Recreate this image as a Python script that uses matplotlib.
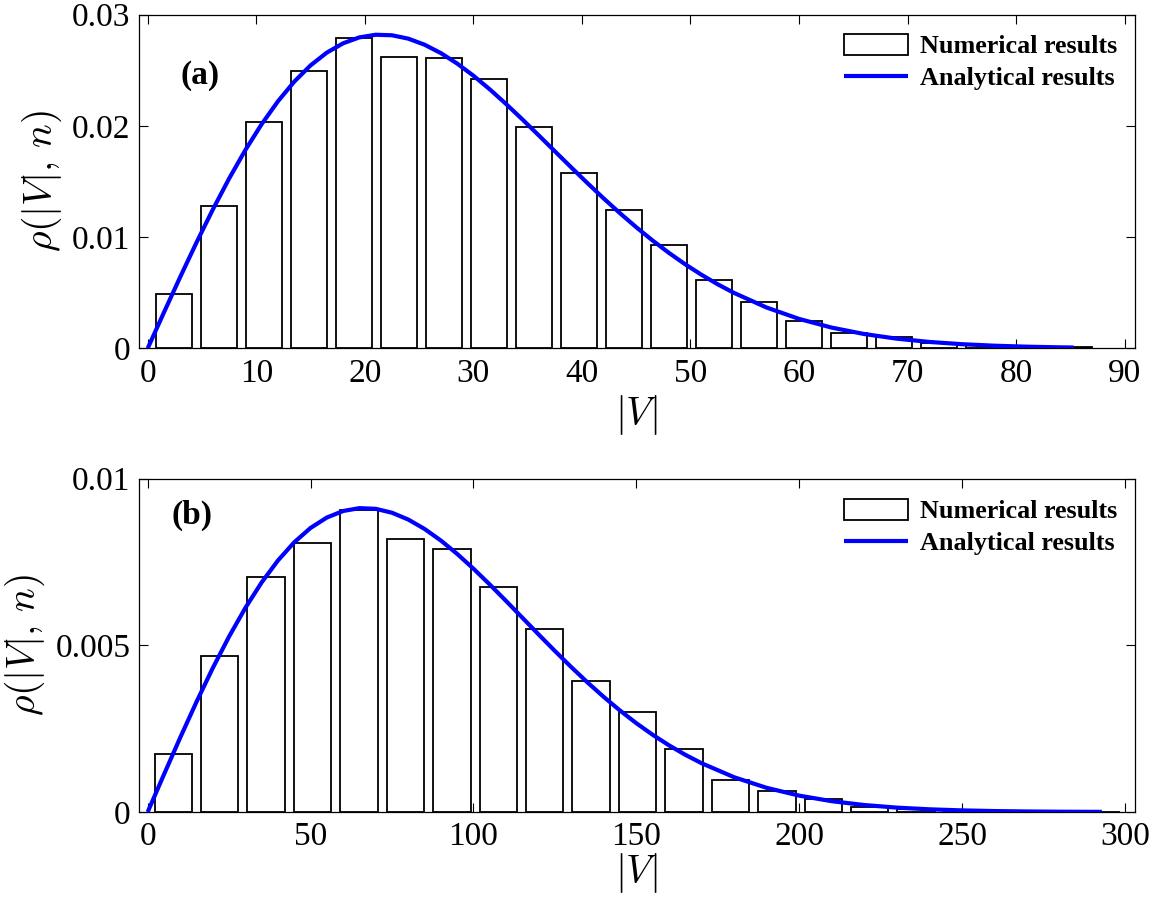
import matplotlib
matplotlib.use('Agg')
import matplotlib.pyplot as plt
from matplotlib.ticker import FixedLocator, FuncFormatter

plt.rcParams['font.family'] = ['Liberation Serif', 'DejaVu Serif']
plt.rcParams['mathtext.fontset'] = 'cm'

# panel (a): histogram bins (centres) and heights
a_centers = [2.42, 6.56, 10.71, 14.85, 18.99, 23.14, 27.28, 31.43, 35.57, 39.72, 43.86,
             48.00, 52.15, 56.29, 60.44, 64.58, 68.72, 72.87, 77.01, 81.16, 85.30]
a_heights = [0.00486, 0.01282, 0.02038, 0.02496, 0.02793, 0.02620, 0.02611, 0.02422,
             0.01990, 0.01576, 0.01243, 0.00930, 0.00614, 0.00414, 0.00245, 0.00138,
             0.00099, 0.00050, 0.00030, 0.00018, 0.00008]
# panel (a): analytical curve
a_curve_x = [0, 1.5, 3, 4.5, 6, 7.5, 9, 10.5, 12, 13.5, 15, 16.5, 18, 19.5, 21, 22.5, 24,
             25.5, 27, 28.5, 30, 31.5, 33, 34.5, 36, 37.5, 39, 40.5, 42, 43.5, 45, 46.5,
             48, 49.5, 51, 52.5, 54, 57, 60, 63, 66, 69, 72, 75, 78, 81, 84, 85.3]
a_curve_y = [0.0, 0.003237, 0.006427, 0.009524, 0.012484, 0.015267, 0.017837, 0.020161,
             0.022216, 0.023980, 0.025441, 0.026590, 0.027428, 0.027960, 0.028197,
             0.028151, 0.027847, 0.027303, 0.026548, 0.025610, 0.024517, 0.023297,
             0.021981, 0.020597, 0.019170, 0.017723, 0.016282, 0.014862, 0.013479,
             0.012152, 0.010891, 0.009701, 0.008590, 0.007562, 0.006620, 0.005760,
             0.004986, 0.003671, 0.002644, 0.001863, 0.001284, 0.000866, 0.000572,
             0.000370, 0.000234, 0.000145, 0.000088, 0.000070]

# panel (b)
b_centers = [7.87, 22.12, 36.37, 50.62, 64.87, 79.12, 93.37, 107.62, 121.87, 136.12, 150.37,
             164.62, 178.87, 193.12, 207.37, 221.62, 235.87, 250.12, 264.37, 278.62, 292.87]
b_heights = [0.00175, 0.00469, 0.00705, 0.00808, 0.00905, 0.00820, 0.00789, 0.00675,
             0.00549, 0.00394, 0.00301, 0.00189, 0.00097, 0.00064, 0.00039, 0.00014,
             0.00010, 0.00006, 0.00004, 0.00002, 0.00001]
b_curve_x = [0, 5, 10, 15, 20, 25, 30, 35, 40, 45, 50, 55, 60, 65, 70, 75, 80, 85, 90, 95,
             100, 105, 110, 115, 120, 125, 130, 135, 140, 145, 150, 155, 160, 165, 170,
             180, 190, 200, 210, 220, 230, 240, 250, 260, 270, 280, 290, 292.9]
b_curve_y = [0.0, 0.0011275, 0.002236, 0.0033068, 0.004323, 0.0052676, 0.006127,
             0.0068909, 0.007548, 0.0080932, 0.008523, 0.0088347, 0.009031, 0.0091165,
             0.009096, 0.0089785, 0.008774, 0.0084920, 0.008145, 0.0077431, 0.007300,
             0.0068260, 0.006333, 0.0058300, 0.005327, 0.0048310, 0.004350, 0.0038886,
             0.003452, 0.0030431, 0.002664, 0.0023175, 0.002002, 0.0017182, 0.001465,
             0.001044, 0.000725, 0.000491, 0.000324, 0.000209, 0.000131, 0.0000806,
             0.0000482, 0.0000282, 0.0000161, 0.0000089, 0.0000049, 0.0000042]

a_xticks = [0, 10, 20, 30, 40, 50, 60, 70, 80, 90]
a_yticks = [0, 0.01, 0.02, 0.03]
b_xticks = [0, 50, 100, 150, 200, 250, 300]
b_yticks = [0, 0.005, 0.01]

W, H = 1166, 898
fig = plt.figure(figsize=(W / 100, H / 100), dpi=100)
ax_a = fig.add_axes([138.7 / W, 1 - 348.3 / H, 996 / W, 333.6 / H])
ax_b = fig.add_axes([138.7 / W, 1 - 812 / H, 996 / W, 333.3 / H])


def style(ax, centers, heights, width, cx, cy, xlim, ylim, xticks, yticks, tag, tagpos,
          legpos, xlabelpad):
    bars = ax.bar(centers, heights, width=width, facecolor='white', edgecolor='black',
                  linewidth=1.3, zorder=2)
    line, = ax.plot(cx, cy, color='#0000ff', linewidth=3, solid_joinstyle='round',
                    solid_capstyle='butt', zorder=3)
    ax.set_xlim(*xlim)
    ax.set_ylim(*ylim)
    ax.xaxis.set_major_locator(FixedLocator(xticks))
    ax.yaxis.set_major_locator(FixedLocator(yticks))
    ax.yaxis.set_major_formatter(FuncFormatter(lambda v, p: f'{v:g}'))
    ax.tick_params(direction='in', length=6.5, width=0.8, top=True, right=True,
                   labelsize=24)
    ax.tick_params(axis='x', pad=7)
    ax.tick_params(axis='y', pad=6)
    for sp in ax.spines.values():
        sp.set_linewidth(0.9)
    ax.set_xlabel(r'$|V|$', fontsize=28.5, labelpad=xlabelpad)
    ax.set_ylabel(r'$\rho(|V|,\,n)$', fontsize=28.5, labelpad=6)
    ax.text(tagpos[0], tagpos[1], tag, transform=ax.transAxes, fontsize=24,
            fontweight='bold', ha='center', va='center')
    ax.legend([bars, line], ['Numerical results', 'Analytical results'],
              loc='upper right', bbox_to_anchor=legpos, frameon=False,
              prop={'weight': 'bold', 'size': 18.8}, handlelength=2.45,
              handleheight=0.85, handletextpad=0.45, labelspacing=0.3,
              borderpad=0, borderaxespad=0)


style(ax_a, a_centers, a_heights, 3.32, a_curve_x, a_curve_y, (-0.83, 90.92), (0, 0.03),
      a_xticks, a_yticks, '(a)', (0.0615, 0.819), (0.982, 0.943), 3)
style(ax_b, b_centers, b_heights, 11.48, b_curve_x, b_curve_y, (-2.76, 302.98), (0, 0.01),
      b_xticks, b_yticks, '(b)', (0.0532, 0.8896), (0.982, 0.94), -1)

fig.savefig('out.png', dpi=100)
